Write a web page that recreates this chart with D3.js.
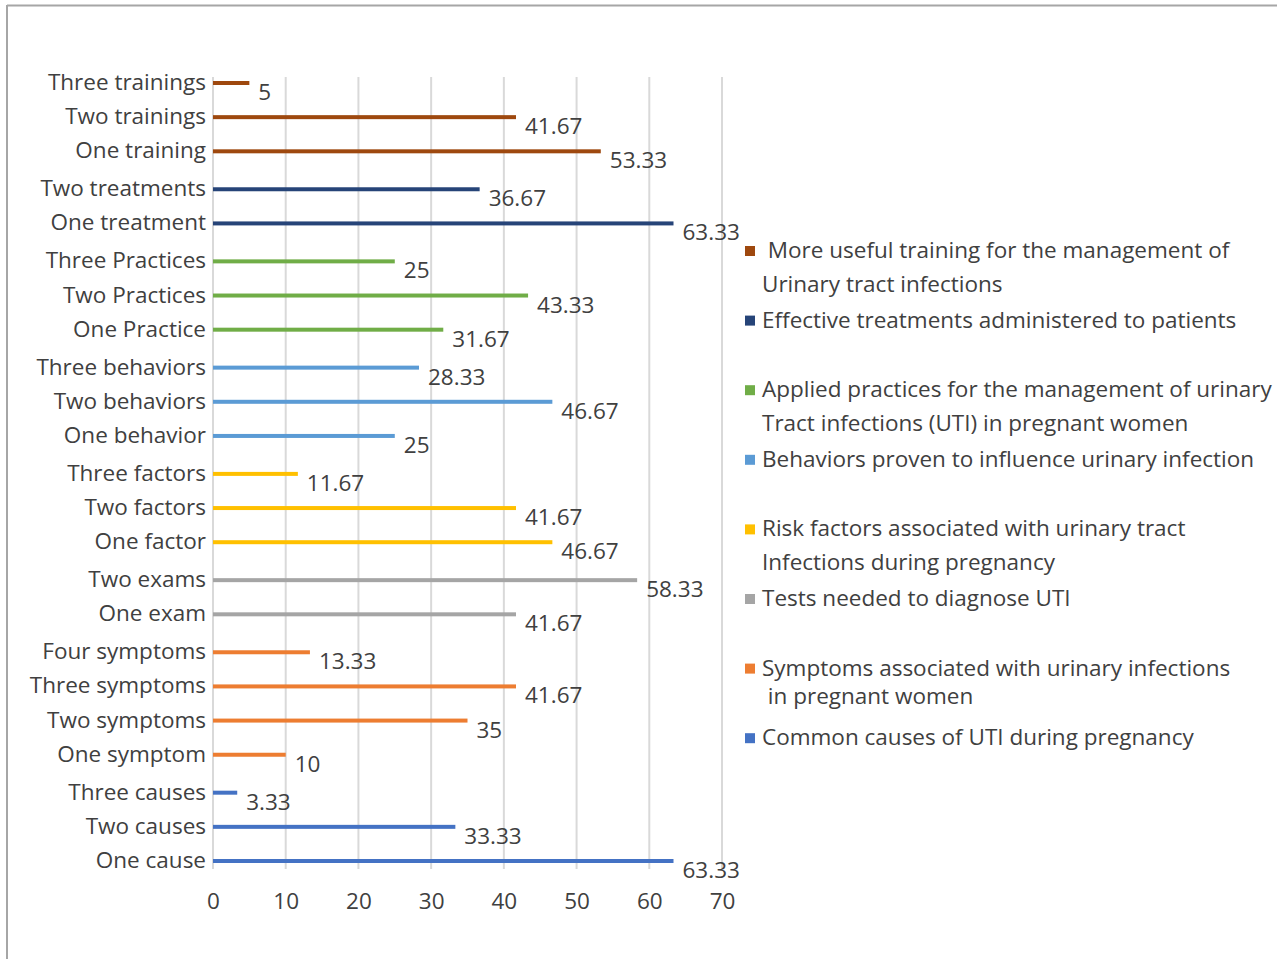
<!DOCTYPE html>
<html>
<head>
<meta charset="utf-8">
<script src="https://cdn.jsdelivr.net/npm/d3@7"></script>
<style>
  html, body { margin: 0; padding: 0; background: #fff; }
  svg { display: block; }
  text { font-family: "Open Sans", Lato, sans-serif; fill: #404040; white-space: pre; }
</style>
</head>
<body>
<svg id="chart" width="1277" height="959"></svg>
<script>
// Categories listed top to bottom, with the series each one belongs to
const categories = [
  "Three trainings", "Two trainings", "One training",
  "Two treatments", "One treatment",
  "Three Practices", "Two Practices", "One Practice",
  "Three behaviors", "Two behaviors", "One behavior",
  "Three factors", "Two factors", "One factor",
  "Two exams", "One exam",
  "Four symptoms", "Three symptoms", "Two symptoms", "One symptom",
  "Three causes", "Two causes", "One cause"
];
const values = [
  5, 41.67, 53.33,
  36.67, 63.33,
  25, 43.33, 31.67,
  28.33, 46.67, 25,
  11.67, 41.67, 46.67,
  58.33, 41.67,
  13.33, 41.67, 35, 10,
  3.33, 33.33, 63.33
];
const seriesOf = [
  0, 0, 0,
  1, 1,
  2, 2, 2,
  3, 3, 3,
  4, 4, 4,
  5, 5,
  6, 6, 6, 6,
  7, 7, 7
];

// Series legend text (one array entry per line) and colours
const seriesLabels = [
  [" More useful training for the management of", "Urinary tract infections"],
  ["Effective treatments administered to patients"],
  ["Applied practices for the management of urinary", "Tract infections (UTI) in pregnant women"],
  ["Behaviors proven to influence urinary infection"],
  ["Risk factors associated with urinary tract", "Infections during pregnancy"],
  ["Tests needed to diagnose UTI"],
  ["Symptoms associated with urinary infections", " in pregnant women"],
  ["Common causes of UTI during pregnancy"]
];
const seriesColors = ["#9E480E", "#264478", "#70AD47", "#5B9BD5", "#FFC000", "#A5A5A5", "#ED7D31", "#4472C4"];

const xTicks = [0, 10, 20, 30, 40, 50, 60, 70];

const FONT_SIZE = "22.5px";
// Line spacing inside each wrapped legend entry
const legendLineGap = [33.5, 33.5, 33.5, 33.5, 33.5, 33.5, 28, 33.5];

const svg = d3.select("#chart");

// Outer frame (top and left edges visible)
svg.append("line").attr("x1", 7).attr("x2", 1277).attr("y1", 5.5).attr("y2", 5.5)
  .attr("stroke", "#A6A6A6").attr("stroke-width", 2);
svg.append("line").attr("x1", 7).attr("x2", 7).attr("y1", 5).attr("y2", 959)
  .attr("stroke", "#A6A6A6").attr("stroke-width", 2);

const x = d3.scaleLinear().domain([0, 70]).range([213, 722]);

// Rows sit on a slot index, with a small extra gap between series groups
const groupGap = 0.111;
const slots = categories.map((c, i) => i + seriesOf[i] * groupGap);
const y = d3.scaleLinear().domain([0, d3.max(slots)]).range([83, 861]);

// Vertical gridlines
svg.append("g").selectAll("line").data(xTicks).join("line")
  .attr("x1", d => x(d)).attr("x2", d => x(d))
  .attr("y1", 77).attr("y2", 869)
  .attr("stroke", "#D9D9D9").attr("stroke-width", 2);

// Axis tick labels
const xAxis = d3.axisBottom(x).tickValues(xTicks).tickSize(0).tickPadding(0);
const axisG = svg.append("g").attr("transform", "translate(0,893)").call(xAxis);
axisG.select(".domain").remove();
axisG.selectAll("text")
  .attr("dy", "0.72em")
  .style("font-family", "'Open Sans', Lato, sans-serif")
  .style("font-size", FONT_SIZE)
  .attr("fill", "#404040");

const rows = categories.map((c, i) => ({ cat: c, value: values[i], s: seriesOf[i], slot: slots[i] }));

// Bars drawn as thin horizontal strokes
svg.append("g").selectAll("rect").data(rows).join("rect")
  .attr("x", x(0))
  .attr("y", d => y(d.slot) - 2)
  .attr("width", d => x(d.value) - x(0))
  .attr("height", 4)
  .attr("fill", d => seriesColors[d.s]);

// Category labels
svg.append("g").selectAll("text").data(rows).join("text")
  .attr("x", 206)
  .attr("y", d => y(d.slot) + 1)
  .attr("text-anchor", "end")
  .attr("dominant-baseline", "middle")
  .style("font-size", FONT_SIZE)
  .text(d => d.cat);

// Value labels, just right of and below each bar end
svg.append("g").selectAll("text").data(rows).join("text")
  .attr("x", d => x(d.value) + 9)
  .attr("y", d => y(d.slot) + 11)
  .attr("dominant-baseline", "middle")
  .style("font-size", FONT_SIZE)
  .text(d => d.value);

// Legend
const legend = svg.append("g");
const item = legend.selectAll("g").data(seriesLabels).join("g")
  .attr("transform", (d, i) => `translate(745, ${251 + i * 69.6})`);
item.append("rect")
  .attr("x", 0).attr("y", -5).attr("width", 10).attr("height", 10)
  .attr("fill", (d, i) => seriesColors[i]);
item.each(function (lines, i) {
  d3.select(this).selectAll("text").data(lines).join("text")
    .attr("x", 17)
    .attr("y", (l, j) => j * legendLineGap[i] + 1)
    .attr("dominant-baseline", "middle")
    .style("font-size", FONT_SIZE)
    .text(l => l);
});
</script>
</body>
</html>
